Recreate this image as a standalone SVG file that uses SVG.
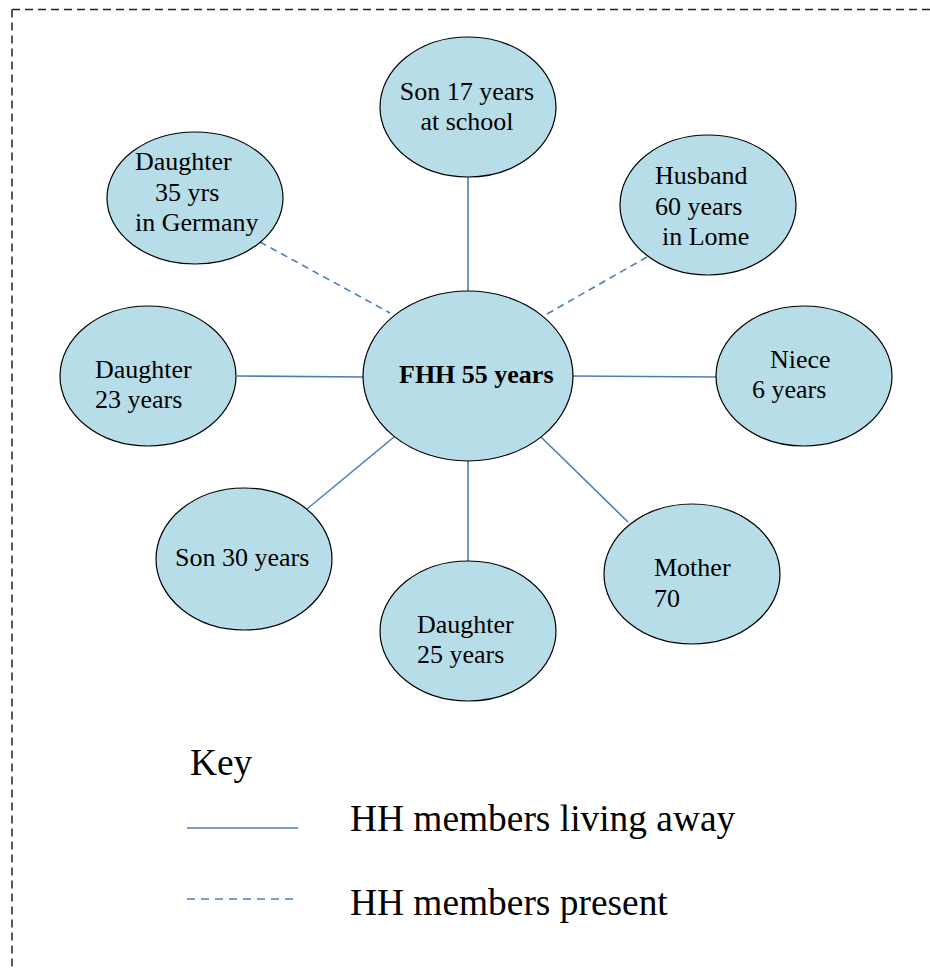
<svg xmlns="http://www.w3.org/2000/svg" width="930" height="968" viewBox="0 0 930 968">
  <style>
    .node { fill: #b7dde8; stroke: #000; stroke-width: 1.2; }
    .lbl { font-family: "Liberation Serif", "Times New Roman", serif; font-size: 26px; fill: #000; }
    .bold { font-weight: bold; }
    .key { font-family: "Liberation Serif", "Times New Roman", serif; font-size: 37.4px; fill: #000; }
    .link { stroke: #4a7ebb; stroke-width: 1.6; fill: none; }
    .dash { stroke-dasharray: 7 5; }
    .frame { stroke: #222; stroke-width: 1.5; fill: none; stroke-dasharray: 8 5; }
  </style>

  <!-- dashed outer frame (top and left edges) -->
  <g id="frame">
    <line class="frame" x1="12" y1="9.5" x2="930" y2="9.5"/>
    <line class="frame" x1="12" y1="9.5" x2="12" y2="968"/>
  </g>

  <!-- connectors from the household head to each member -->
  <g id="connectors">
    <line class="link" x1="468" y1="177" x2="468" y2="291"/>
    <line class="link dash" x1="260" y1="242" x2="390" y2="313"/>
    <line class="link dash" x1="647" y1="257" x2="540" y2="318"/>
    <line class="link" x1="237" y1="376" x2="363" y2="377"/>
    <line class="link" x1="573" y1="376" x2="716" y2="377"/>
    <line class="link" x1="307" y1="509" x2="394" y2="437"/>
    <line class="link" x1="468" y1="461" x2="468" y2="561"/>
    <line class="link" x1="541" y1="437" x2="628" y2="522"/>
  </g>

  <g id="fhh">
    <ellipse class="node" cx="468" cy="376" rx="105" ry="85"/>
    <text class="lbl bold" x="399" y="383">FHH 55 years</text>
  </g>

  <g id="son17">
    <ellipse class="node" cx="468" cy="107" rx="88" ry="70"/>
    <text class="lbl" x="467" y="100" text-anchor="middle">Son 17 years</text>
    <text class="lbl" x="467" y="130" text-anchor="middle">at school</text>
  </g>

  <g id="daughter35">
    <ellipse class="node" cx="195" cy="198" rx="88" ry="66"/>
    <text class="lbl" x="135" y="170">Daughter</text>
    <text class="lbl" x="155" y="201">35 yrs</text>
    <text class="lbl" x="135" y="231">in Germany</text>
  </g>

  <g id="husband">
    <ellipse class="node" cx="708" cy="205" rx="88" ry="70"/>
    <text class="lbl" x="655" y="184">Husband</text>
    <text class="lbl" x="655" y="215">60 years</text>
    <text class="lbl" x="662" y="245">in Lome</text>
  </g>

  <g id="daughter23">
    <ellipse class="node" cx="148" cy="376" rx="88" ry="70"/>
    <text class="lbl" x="95" y="378">Daughter</text>
    <text class="lbl" x="95" y="408">23 years</text>
  </g>

  <g id="niece">
    <ellipse class="node" cx="804" cy="376" rx="88" ry="70"/>
    <text class="lbl" x="770" y="368">Niece</text>
    <text class="lbl" x="752" y="398">6 years</text>
  </g>

  <g id="son30">
    <ellipse class="node" cx="244" cy="559" rx="88" ry="71"/>
    <text class="lbl" x="175" y="566">Son 30 years</text>
  </g>

  <g id="daughter25">
    <ellipse class="node" cx="468" cy="631" rx="88" ry="70"/>
    <text class="lbl" x="417" y="633">Daughter</text>
    <text class="lbl" x="417" y="663">25 years</text>
  </g>

  <g id="mother">
    <ellipse class="node" cx="692" cy="574" rx="88" ry="70"/>
    <text class="lbl" x="654" y="576">Mother</text>
    <text class="lbl" x="654" y="607">70</text>
  </g>

  <!-- legend -->
  <g id="key">
    <text class="key" x="190" y="775">Key</text>
    <line class="link" x1="187" y1="828" x2="298" y2="828" stroke-width="2"/>
    <text class="key" x="350" y="831">HH members living away</text>
    <line class="link" x1="187" y1="899" x2="293" y2="899" stroke-dasharray="8 6"/>
    <text class="key" x="350" y="915">HH members present</text>
  </g>
</svg>
